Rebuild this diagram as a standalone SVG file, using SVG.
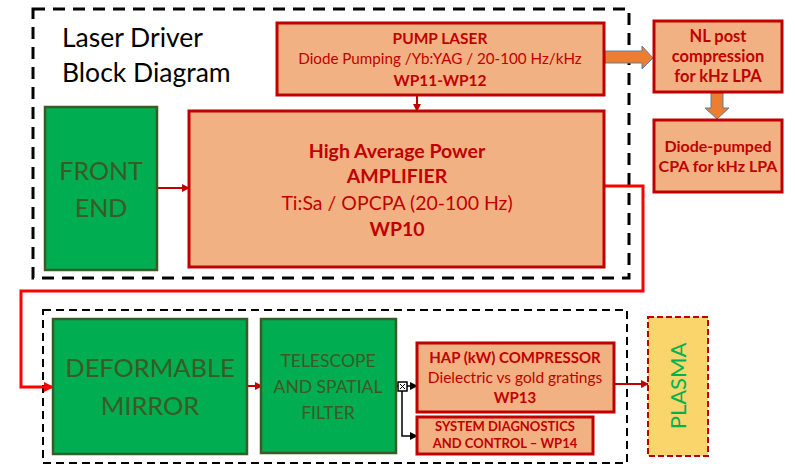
<svg xmlns="http://www.w3.org/2000/svg" width="795" height="464" viewBox="0 0 795 464">
<defs>
<style>
.t{font-family:Lato,"Liberation Sans",Arial,sans-serif;}
.org{fill:#F2B183;stroke:#C00000;stroke-width:3;}
.grn{fill:#00AD50;stroke:#3A5A26;stroke-width:2.5;}
.rt{fill:#C00000;text-anchor:middle;}
.b{font-weight:bold;}
.gt{fill:#3A5A26;text-anchor:middle;}
.dr{stroke:#C00000;stroke-width:2;fill:none;}
.blk{stroke:#000;stroke-width:1.5;fill:none;}
.bigarr{fill:#ED7D31;stroke:#5B7FA6;stroke-width:1;}
</style>
<marker id="ahr" markerWidth="8" markerHeight="8" refX="7" refY="4" orient="auto" markerUnits="userSpaceOnUse"><path d="M0,0 L8,4 L0,8 Z" fill="#C00000"/></marker>
<marker id="ahb" markerWidth="8" markerHeight="8" refX="7" refY="4" orient="auto" markerUnits="userSpaceOnUse"><path d="M0,0 L8,4 L0,8 Z" fill="#000"/></marker>
<marker id="ahrr" markerWidth="10" markerHeight="10" refX="9" refY="5" orient="auto" markerUnits="userSpaceOnUse"><path d="M0,0 L10,5 L0,10 Z" fill="#FF0000"/></marker>
</defs>
<rect width="795" height="464" fill="#fff"/>

<g id="laser-driver-frame">
<rect x="33" y="9" width="596" height="269" fill="none" stroke="#000" stroke-width="3" stroke-dasharray="12,8"/>
<text class="t" x="62" y="47" font-size="26.5" fill="#000">Laser Driver</text>
<text class="t" x="62" y="82" font-size="26.5" fill="#000">Block Diagram</text>
</g>

<g id="beam-delivery-frame">
<rect x="43" y="310" width="584" height="153" fill="none" stroke="#000" stroke-width="2" stroke-dasharray="8,5"/>
</g>

<g id="connectors">
<line class="dr" x1="158" y1="188" x2="189" y2="188" marker-end="url(#ahr)"/>
<line class="dr" x1="417" y1="96" x2="417" y2="111" marker-end="url(#ahr)"/>
<polyline points="605,186 643,186 643,291 21,291 21,387 53,387" fill="none" stroke="#FF0000" stroke-width="3" marker-end="url(#ahrr)"/>
<line class="dr" x1="248" y1="386" x2="262" y2="386" marker-end="url(#ahr)"/>
<line class="blk" x1="397" y1="386" x2="398" y2="386"/>
<line class="blk" x1="407" y1="386" x2="417" y2="386" marker-end="url(#ahb)"/>
<polyline class="blk" points="402,391 402,436 417,436" marker-end="url(#ahb)"/>
<line class="dr" x1="615" y1="384" x2="648" y2="384" marker-end="url(#ahr)"/>
<path class="bigarr" d="M605,51 L642,51 L642,46 L653,58 L642,69 L642,63 L605,63 Z"/>
<path class="bigarr" d="M711,93 L723,93 L723,108 L729,108 L717,119 L705,108 L711,108 Z"/>
<rect x="398" y="382" width="9" height="9" fill="#fff" stroke="#000" stroke-width="1.5"/>
<path d="M400,384 L405,389 M405,384 L400,389" stroke="#000" stroke-width="1"/>
</g>

<g id="pump-laser">
<rect class="org" x="277" y="23" width="327" height="72"/>
<text class="t rt b" x="440" y="44" font-size="15.5">PUMP LASER</text>
<text class="t rt" x="440" y="64" font-size="15.2">Diode Pumping /Yb:YAG / 20-100 Hz/kHz</text>
<text class="t rt b" x="440" y="86" font-size="15.5">WP11-WP12</text>
</g>

<g id="amplifier">
<rect class="org" x="189" y="111" width="415" height="156"/>
<text class="t rt b" x="397" y="158" font-size="19.5">High Average Power</text>
<text class="t rt b" x="397" y="183" font-size="19.5">AMPLIFIER</text>
<text class="t rt" x="397" y="210" font-size="19.5">Ti:Sa / OPCPA (20-100 Hz)</text>
<text class="t rt b" x="397" y="236" font-size="19.5">WP10</text>
</g>

<g id="front-end">
<rect class="grn" x="45" y="107" width="112" height="163"/>
<text class="t gt" x="101" y="180" font-size="25">FRONT</text>
<text class="t gt" x="101" y="217" font-size="25">END</text>
</g>

<g id="nl-post-compression">
<rect class="org" x="654" y="21" width="128" height="71"/>
<text class="t rt b" x="718" y="42" font-size="16.5">NL post</text>
<text class="t rt b" x="718" y="62" font-size="16.5">compression</text>
<text class="t rt b" x="718" y="82" font-size="16.5">for kHz LPA</text>
</g>

<g id="diode-pumped-cpa">
<rect class="org" x="654" y="120" width="128" height="72"/>
<text class="t rt b" x="718" y="152" font-size="16">Diode-pumped</text>
<text class="t rt b" x="718" y="172" font-size="16">CPA for kHz LPA</text>
</g>

<g id="deformable-mirror">
<rect class="grn" x="53" y="319" width="194" height="135"/>
<text class="t gt" x="150" y="377" font-size="25.4">DEFORMABLE</text>
<text class="t gt" x="150" y="415" font-size="25.4">MIRROR</text>
</g>

<g id="telescope">
<rect class="grn" x="261" y="319" width="135" height="134"/>
<text class="t gt" x="328" y="367" font-size="17.5">TELESCOPE</text>
<text class="t gt" x="328" y="393" font-size="17.5">AND SPATIAL</text>
<text class="t gt" x="328" y="419" font-size="17.5">FILTER</text>
</g>

<g id="hap-compressor">
<rect class="org" x="417" y="343" width="197" height="69"/>
<text class="t rt b" x="515" y="363" font-size="15">HAP (kW) COMPRESSOR</text>
<text class="t rt" x="515" y="383" font-size="15.5">Dielectric vs gold gratings</text>
<text class="t rt b" x="515" y="403" font-size="15">WP13</text>
</g>

<g id="system-diagnostics">
<rect class="org" x="417" y="417" width="176" height="37"/>
<text class="t rt b" x="505" y="431" font-size="13">SYSTEM DIAGNOSTICS</text>
<text class="t rt b" x="505" y="448" font-size="13">AND CONTROL – WP14</text>
</g>

<g id="plasma">
<rect x="648" y="317" width="60" height="139" fill="#F9D56B" stroke="#C00000" stroke-width="2" stroke-dasharray="6,3"/>
<text class="t" x="0" y="0" font-size="22" fill="#00B050" text-anchor="middle" transform="translate(686,386) rotate(-90)">PLASMA</text>
</g>
</svg>
